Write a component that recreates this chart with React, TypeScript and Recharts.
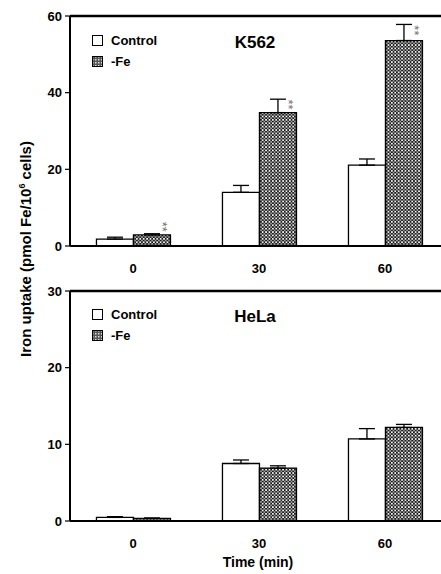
import React from "react";
import { BarChart, Bar, XAxis, YAxis, ErrorBar, LabelList, ReferenceLine } from "recharts";

const FONT = '"Liberation Sans", Arial, sans-serif';

const categories = ["0", "30", "60"];

// K562 panel
const k562Control = [1.8, 14.0, 21.1];
const k562ControlErr = [0.5, 1.8, 1.6];
const k562Fe = [2.9, 34.8, 53.6];
const k562FeErr = [0.3, 3.5, 4.2];
const k562FeSig = ["**", "**", "**"];

// HeLa panel
const helaControl = [0.47, 7.5, 10.7];
const helaControlErr = [0.1, 0.46, 1.35];
const helaFe = [0.34, 6.9, 12.2];
const helaFeErr = [0.05, 0.3, 0.4];
const helaFeSig = ["", "", ""];

const k562Ticks = [0, 20, 40, 60];
const helaTicks = [0, 10, 20, 30];
const boundaryTicks = [0, 1, 2, 3];
const legendItems = ["Control", "-Fe"];

function buildRows(ctrl: number[], ctrlErr: number[], fe: number[], feErr: number[]) {
  return categories.map((c, i) => ({
    time: c,
    Control: ctrl[i],
    controlErr: [0, ctrlErr[i]],
    "-Fe": fe[i],
    feErr: [0, feErr[i]],
  }));
}

// "**" drawn vertically beside the error bar cap
function StarsLabel(props: any, errs: number[], sig: string[]) {
  const { x, y, width, height, value, index } = props;
  if (!sig[index] || !value) return null;
  const errPx = (errs[index] * height) / value;
  const errTop = y - errPx;
  const midY = Math.min(errTop + 6, y - 8);
  const cx = x + width / 2 + 11;
  return (
    <text
      x={cx}
      y={midY}
      fill="#707070"
      fontSize={13}
      fontFamily={FONT}
      textAnchor="middle"
      dominantBaseline="central"
      transform={`rotate(90 ${cx} ${midY})`}
    >
      {sig[index]}
    </text>
  );
}

function LegendBox({ top }: { top: number }) {
  const fills = ["#fff", "url(#legendPat)"];
  return (
    <div style={{ position: "absolute", left: 92, top }}>
      <svg width={0} height={0} style={{ position: "absolute" }}>
        <defs>
          <pattern id="legendPat" width={3} height={3} patternUnits="userSpaceOnUse">
            <rect width={3} height={3} fill="#555" />
            <rect width={1.5} height={1.5} fill="#ddd" />
          </pattern>
        </defs>
      </svg>
      {legendItems.map((label, i) => (
        <div key={label} style={{ display: "flex", alignItems: "center", height: 21 }}>
          <svg width={11} height={11} style={{ marginRight: 8 }}>
            <rect x={0.5} y={0.5} width={10} height={10} fill={fills[i]} stroke="#000" strokeWidth={1} />
          </svg>
          <span style={{ fontFamily: FONT, fontWeight: "bold", fontSize: 13 }}>{label}</span>
        </div>
      ))}
    </div>
  );
}

interface PanelProps {
  id: string;
  rows: any[];
  yMax: number;
  ticks: number[];
  feErr: number[];
  sig: string[];
}

function Panel({ id, rows, yMax, ticks, feErr, sig }: PanelProps) {
  const tickStyle = { fill: "#000", fontSize: 13, fontWeight: "bold", fontFamily: FONT };
  return (
    <BarChart
      width={460}
      height={276}
      data={rows}
      margin={{ top: 16, right: 12, left: 30, bottom: 0 }}
      barCategoryGap="21%"
      barGap={0}
    >
      <defs>
        <pattern id={`pat-${id}`} width={3.4} height={3.4} patternUnits="userSpaceOnUse">
          <rect width={3.4} height={3.4} fill="#1c1c1c" />
          <rect x={0} y={0} width={1.7} height={1.7} fill="#f2f2f2" />
          <rect x={1.7} y={1.7} width={1.7} height={1.7} fill="#9a9a9a" />
        </pattern>
      </defs>
      <XAxis
        xAxisId="b"
        dataKey="time"
        axisLine={false}
        tickLine={false}
        tickSize={6}
        tickMargin={6}
        height={24}
        tick={tickStyle}
      />
      <XAxis
        xAxisId="a"
        type="number"
        domain={[0, 3]}
        ticks={boundaryTicks}
        tick={false}
        tickSize={5}
        height={6}
        axisLine={{ stroke: "#000", strokeWidth: 2 }}
        tickLine={{ stroke: "#000", strokeWidth: 1.2 }}
        allowDataOverflow
      />
      <YAxis
        domain={[0, yMax]}
        ticks={ticks}
        width={40}
        tickSize={5}
        tickMargin={3}
        tick={tickStyle}
        axisLine={{ stroke: "#000", strokeWidth: 2 }}
        tickLine={{ stroke: "#000", strokeWidth: 1.2 }}
        allowDataOverflow
      />
      <ReferenceLine xAxisId="b" y={yMax} stroke="#000" strokeWidth={2.5} />
      <Bar
        xAxisId="b"
        dataKey="Control"
        fill="#fff"
        stroke="#000"
        strokeWidth={1.3}
        isAnimationActive={false}
      >
        <ErrorBar dataKey="controlErr" direction="y" width={8} stroke="#000" strokeWidth={1.3} />
      </Bar>
      <Bar
        xAxisId="b"
        dataKey="-Fe"
        fill={`url(#pat-${id})`}
        stroke="#000"
        strokeWidth={1.3}
        isAnimationActive={false}
      >
        <ErrorBar dataKey="feErr" direction="y" width={8} stroke="#000" strokeWidth={1.3} />
        <LabelList dataKey="-Fe" content={(p: any) => StarsLabel(p, feErr, sig)} />
      </Bar>
    </BarChart>
  );
}

export default function App() {
  const k562Rows = buildRows(k562Control, k562ControlErr, k562Fe, k562FeErr);
  const helaRows = buildRows(helaControl, helaControlErr, helaFe, helaFeErr);
  const titleStyle: React.CSSProperties = {
    position: "absolute",
    left: 205,
    width: 100,
    textAlign: "center",
    fontFamily: FONT,
    fontWeight: "bold",
    fontSize: 17,
  };
  return (
    <div
      style={{
        position: "absolute",
        left: 0,
        top: 0,
        width: 441,
        height: 574,
        overflow: "hidden",
        background: "#fff",
      }}
    >
      <div style={{ position: "absolute", left: 0, top: 0 }}>
        <Panel id="k562" rows={k562Rows} yMax={60} ticks={k562Ticks} feErr={k562FeErr} sig={k562FeSig} />
      </div>
      <div style={{ position: "absolute", left: 0, top: 275 }}>
        <Panel id="hela" rows={helaRows} yMax={30} ticks={helaTicks} feErr={helaFeErr} sig={helaFeSig} />
      </div>
      <LegendBox top={30} />
      <LegendBox top={304} />
      <div style={{ ...titleStyle, top: 33 }}>K562</div>
      <div style={{ ...titleStyle, top: 307 }}>HeLa</div>
      <div
        style={{
          position: "absolute",
          left: 25,
          top: 249,
          transform: "translate(-50%, -50%) rotate(-90deg)",
          whiteSpace: "nowrap",
          fontFamily: FONT,
          fontWeight: "bold",
          fontSize: 15,
        }}
      >
        Iron uptake (pmol Fe/10<sup style={{ fontSize: 9 }}>6</sup> cells)
      </div>
      <div
        style={{
          position: "absolute",
          left: 208,
          width: 100,
          top: 554,
          textAlign: "center",
          fontFamily: FONT,
          fontWeight: "bold",
          fontSize: 14,
        }}
      >
        Time (min)
      </div>
    </div>
  );
}
